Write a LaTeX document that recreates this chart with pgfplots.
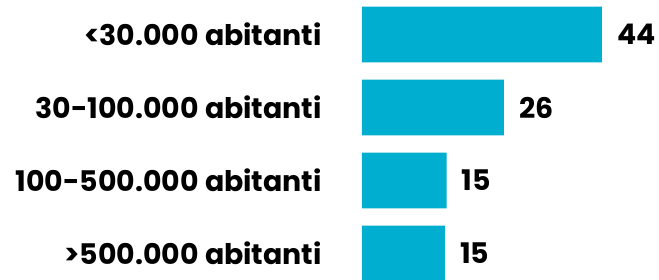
\documentclass[border=0pt]{standalone}
\usepackage{pgfplots}
\pgfplotsset{compat=1.18}
\usepackage{fontspec}
\setmainfont{Poppins}[BoldFont={Poppins Bold}]
\definecolor{barcol}{HTML}{00AED0}
\begin{document}
\begin{tikzpicture}
\begin{axis}[
  scale only axis,
  width=297bp, height=280bp,
  xmin=0, xmax=54.45,
  ymin=-0.4726, ymax=3.363,
  y dir=reverse,
  enlargelimits=false,
  xbar, bar width=0.767,
  axis line style={draw=none},
  major tick length=0pt,
  xtick=\empty,
  ytick={0,1,2,3},
  yticklabels={{<30.000 abitanti},{30-100.000 abitanti},{100-500.000 abitanti},{>500.000 abitanti}},
  yticklabel style={font=\fontsize{28.5}{32}\selectfont\bfseries, anchor=east, inner sep=0pt, xshift=-40bp},
  nodes near coords,
  point meta=explicit symbolic,
  every node near coord/.style={font=\fontsize{28.5}{32}\selectfont\bfseries, anchor=west, inner sep=0pt, xshift=15bp, black},
  clip=false,
]
\addplot[fill=barcol, draw=none] table[meta=label] {
x y label
44 0 44
26 1 26
15.5 2 15
15.2 3 15
};
\coordinate (ll) at (rel axis cs:0,1);
\coordinate (ur) at (rel axis cs:1,0);
\end{axis}
\pgfresetboundingbox
\path ([xshift=-362bp]ll) rectangle (ur);
\end{tikzpicture}
\end{document}
